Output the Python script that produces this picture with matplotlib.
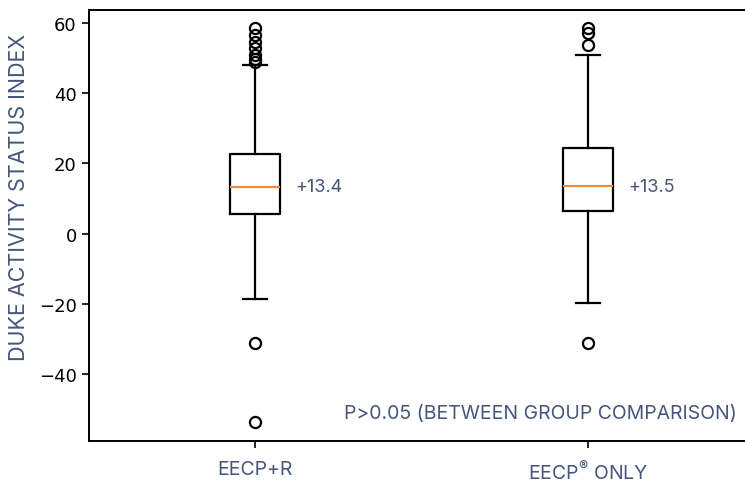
import matplotlib
matplotlib.use("Agg")
import matplotlib.pyplot as plt

plt.rcParams["font.family"] = ["Inter", "DejaVu Sans"]
plt.rcParams["mathtext.fontset"] = "custom"
plt.rcParams["mathtext.rm"] = "Inter"

# values
groups = ["EECP+R", r"EECP$^{\mathrm{®}}$ ONLY"]
q1 = [5.6, 6.3]
medians = [13.4, 13.5]
q3 = [22.7, 24.3]
whis_lo = [-18.6, -19.9]
whis_hi = [48.1, 51.0]
fliers = [
    [58.6, 56.6, 54.6, 52.8, 50.8, 49.6, 49.0, -31.3, -53.8],
    [58.6, 57.2, 53.6, -31.3],
]
median_labels = ["+13.4", "+13.5"]
note = "P>0.05 (BETWEEN GROUP COMPARISON)"

text_color = "#46567a"

stats = []
for i, name in enumerate(groups):
    stats.append({
        "label": name,
        "q1": q1[i], "med": medians[i], "q3": q3[i],
        "whislo": whis_lo[i], "whishi": whis_hi[i],
        "fliers": fliers[i],
    })

fig = plt.figure(figsize=(7.45, 4.85), dpi=100)
ax = fig.add_axes([88.5 / 745, 43 / 485, 666 / 745, 431 / 485])

lw = 1.6
ax.bxp(stats, positions=[1, 2], widths=0.15,
       boxprops=dict(linewidth=lw, color="black"),
       whiskerprops=dict(linewidth=lw, color="black"),
       capprops=dict(linewidth=lw, color="black"),
       medianprops=dict(linewidth=lw, color="#f08a3c"),
       flierprops=dict(marker="o", markersize=8, markerfacecolor="none",
                       markeredgecolor="black", markeredgewidth=1.6))

ax.set_xlim(0.5, 2.5)
ax.set_ylim(-59.1, 63.7)
ax.set_yticks([-40, -20, 0, 20, 40, 60])
ax.tick_params(axis="y", labelsize=13, length=5, width=1.2)
ax.tick_params(axis="x", length=5, width=1.2, pad=9)
for t in ax.get_yticklabels():
    t.set_family("DejaVu Sans")
ax.set_xticks([1, 2])
ax.set_xticklabels(groups, fontsize=14, color=text_color)
for s in ax.spines.values():
    s.set_linewidth(1.4)

ax.set_ylabel("DUKE ACTIVITY STATUS INDEX", fontsize=15.5, color=text_color)
ax.yaxis.set_label_coords(-0.09, 0.568)

for i, lab in enumerate(median_labels):
    ax.text(i + 1 + 0.12, medians[i], lab, va="center", ha="left",
            fontsize=13, color=text_color)

ax.text(2.447, -51.0, note, ha="right", va="center", fontsize=14,
        color=text_color)

fig.savefig("out.png", dpi=100)
